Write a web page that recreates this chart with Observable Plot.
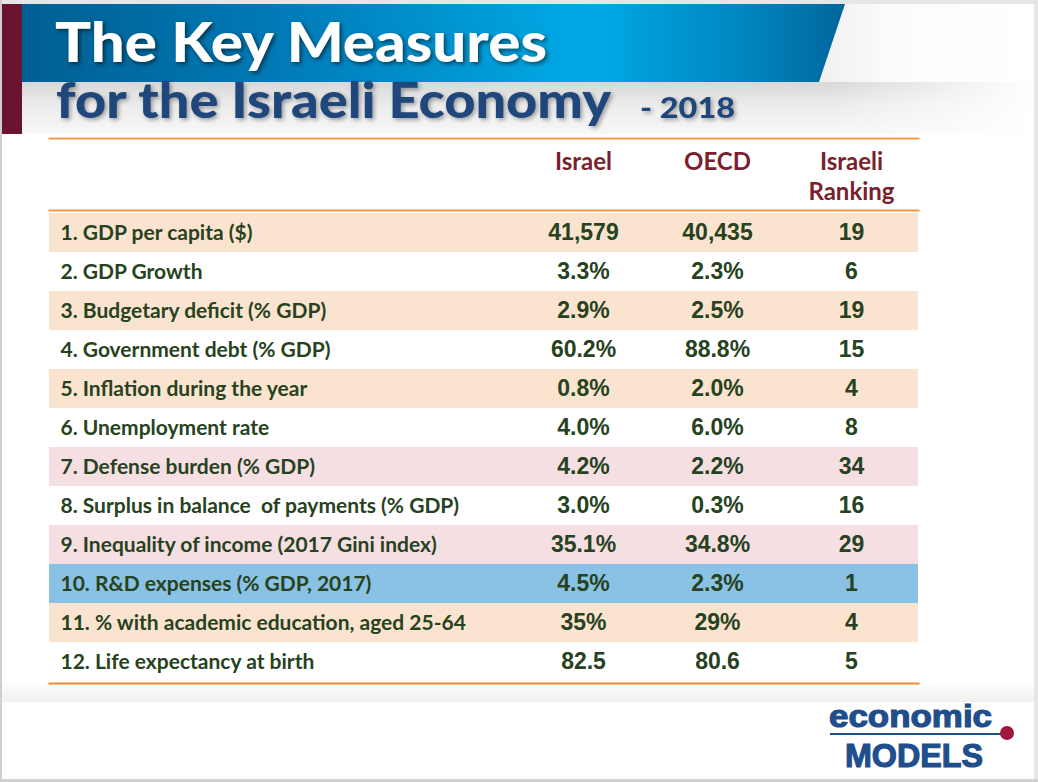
<!DOCTYPE html>
<html>
<head>
<meta charset="utf-8">
<script src="https://cdn.jsdelivr.net/npm/d3@7"></script>
<script src="https://cdn.jsdelivr.net/npm/@observablehq/plot@0.6"></script>
<style>
  html, body { margin: 0; padding: 0; background: #fff; }
  #slide { position: relative; width: 1038px; height: 782px; overflow: hidden; background: #fff; }
  .abs { position: absolute; }
  #edgeTop { left: 0; top: 0; width: 1038px; height: 4px; background: #e6e6e6; }
  #edgeRight { right: 0; top: 0; width: 4px; height: 782px; background: #e6e6e6; }
  #edgeLeft { left: 0; top: 0; width: 2px; height: 782px; background: #cfcfcf; }
  #edgeBottom { left: 0; bottom: 0; width: 1038px; height: 3px; background: #d0d0d0; }
  #maroon { left: 2px; top: 4px; width: 20px; height: 130px; background: #6b1430; }
  #grayBand { left: 22px; top: 82px; width: 1012px; height: 52px;
    background: linear-gradient(90deg, rgba(255,255,255,0) 80%, #ffffff 100%),
                linear-gradient(180deg, #d8d8d8 0%, #ececec 45%, #f7f7f7 100%); }
  #rightTop { left: 820px; top: 4px; width: 214px; height: 78px;
    background: linear-gradient(90deg, #f0f0f0 0%, #fcfcfc 35%, #ffffff 100%); }
  #blueBand { left: 22px; top: 4px; width: 823px; height: 78px;
    clip-path: polygon(0 0, 823px 0, 797px 78px, 0 78px);
    background: linear-gradient(90deg, #005f93 0%, #0079b5 30%, #00a2de 62%, #00a8e4 70%, #0089c3 86%, #00679c 100%); }
  #footerBand { left: 2px; top: 684px; width: 1032px; height: 18px;
    background: linear-gradient(180deg, #fcfcfc 0%, #f0f0f0 100%); }
  #titleSvg { left: 0; top: 0; }
  #table { left: 0; top: 138px; }
  #logo { left: 815px; top: 700px; overflow: visible; }
</style>
</head>
<body>
<div id="slide">
  <div class="abs" id="edgeTop"></div>
  <div class="abs" id="rightTop"></div>
  <div class="abs" id="grayBand"></div>
  <div class="abs" id="blueBand"></div>
  <div class="abs" id="maroon"></div>
  <div class="abs" id="footerBand"></div>
  <svg class="abs" id="titleSvg" width="1038" height="140">
    <text x="55" y="62" font-family="Lato" font-weight="900" font-size="55" fill="#ffffff"
      textLength="492" lengthAdjust="spacingAndGlyphs"
      style="filter: drop-shadow(2px 2px 2px rgba(0,0,0,0.55));">The Key Measures</text>
    <text x="56" y="118" font-family="Lato" font-weight="900" font-size="50" fill="#1f477b"
      textLength="555" lengthAdjust="spacingAndGlyphs"
      style="filter: drop-shadow(2px 2px 2px rgba(0,0,0,0.35));">for the Israeli Economy</text>
    <text x="640" y="118" font-family="Lato" font-weight="900" font-size="28" fill="#1f477b"
      textLength="95" lengthAdjust="spacingAndGlyphs"
      style="filter: drop-shadow(2px 2px 2px rgba(0,0,0,0.35));">- 2018</text>
  </svg>
  <div class="abs" id="table"></div>
  <svg class="abs" id="logo" width="216" height="78">
    <text x="14" y="27" font-family="Liberation Sans" font-weight="700" font-size="32" fill="#1f4e8c"
      stroke="#1f4e8c" stroke-width="1.2"
      textLength="163" lengthAdjust="spacingAndGlyphs">economic</text>
    <line x1="15" y1="34" x2="188" y2="34" stroke="#1f4e8c" stroke-width="2"></line>
    <circle cx="192" cy="33" r="7" fill="#a0173a"></circle>
    <text x="30" y="67" font-family="Liberation Sans" font-weight="700" font-size="34" fill="#1f4e8c"
      stroke="#1f4e8c" stroke-width="1.2"
      textLength="138" lengthAdjust="spacingAndGlyphs">MODELS</text>
  </svg>
  <div class="abs" id="edgeLeft"></div>
  <div class="abs" id="edgeRight"></div>
  <div class="abs" id="edgeBottom"></div>
</div>
<script>
// ---- Data ----
const measures = [
  "1. GDP per capita ($)",
  "2. GDP Growth",
  "3. Budgetary deficit (% GDP)",
  "4. Government debt (% GDP)",
  "5. Inflation during the year",
  "6. Unemployment rate",
  "7. Defense burden (% GDP)",
  "8. Surplus in balance  of payments (% GDP)",
  "9. Inequality of income (2017 Gini index)",
  "10. R&D expenses (% GDP, 2017)",
  "11. % with academic education, aged 25-64",
  "12. Life expectancy at birth"
];
const israel = ["41,579", "3.3%", "2.9%", "60.2%", "0.8%", "4.0%", "4.2%", "3.0%", "35.1%", "4.5%", "35%", "82.5"];
const oecd = ["40,435", "2.3%", "2.5%", "88.8%", "2.0%", "6.0%", "2.2%", "0.3%", "34.8%", "2.3%", "29%", "80.6"];
const ranking = ["19", "6", "19", "15", "4", "8", "34", "16", "29", "1", "4", "5"];
const rowGroup = ["a", "b", "a", "b", "a", "b", "c", "b", "c", "d", "a", "b"];
const columnKeys = ["Israel", "OECD", "Ranking"];
const columnLabels = ["Israel", "OECD", "Israeli\nRanking"];

// ---- Build tables ----
const rows = measures.map((m, i) => ({measure: m, group: rowGroup[i]}));
const cells = measures.flatMap((m, i) => [
  {measure: m, col: "Israel", value: israel[i]},
  {measure: m, col: "OECD", value: oecd[i]},
  {measure: m, col: "Ranking", value: ranking[i]}
]);
const headers = columnKeys.map((k, i) => ({col: k, label: columnLabels[i]}));

const textColor = "#264220";
const headColor = "#7a1f2e";
const orange = "#f39a4a";

const chart = Plot.plot({
  width: 1038,
  height: 546,
  marginTop: 72,
  marginBottom: 1,
  marginLeft: 49,
  marginRight: 120,
  style: "background:transparent;overflow:visible;white-space:pre;",
  x: {type: "point", domain: columnKeys, range: [583, 851], padding: 0, axis: null},
  y: {type: "band", domain: measures, padding: 0, axis: null},
  color: {type: "ordinal", domain: ["a", "b", "c", "d"], range: ["#fbe4cf", "#ffffff", "#f6dfe3", "#8ac2e5"]},
  marks: [
    Plot.cell(rows, {y: "measure", fill: "group"}),
    Plot.text(rows, {
      y: "measure", text: "measure", frameAnchor: "left", dx: 11, textAnchor: "start",
      fill: textColor, fontSize: 21, fontWeight: 700, fontFamily: "Lato"
    }),
    Plot.text(cells, {
      x: "col", y: "measure", text: "value",
      fill: textColor, fontSize: 23, fontWeight: 700, fontFamily: "Liberation Sans"
    }),
    Plot.text(headers, {
      x: "col", text: "label", frameAnchor: "top", lineAnchor: "top", dy: -62, lineHeight: 1.25,
      fill: headColor, fontSize: 24, fontWeight: 700, fontFamily: "Lato"
    }),
    Plot.frame({anchor: "top", stroke: orange, strokeWidth: 2, strokeOpacity: 1}),
    Plot.frame({anchor: "top", insetTop: -72, stroke: orange, strokeWidth: 2, strokeOpacity: 1}),
    Plot.frame({anchor: "bottom", stroke: "#f0892f", strokeWidth: 2, strokeOpacity: 1})
  ]
});
document.getElementById("table").appendChild(chart);
</script>
</body>
</html>
